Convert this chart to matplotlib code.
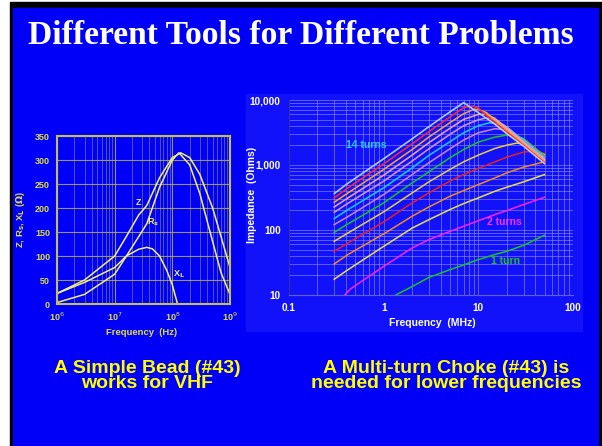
import matplotlib
matplotlib.use("Agg")
import matplotlib.pyplot as plt
from matplotlib.patches import Rectangle
from matplotlib.ticker import NullFormatter, LogLocator

# ---------------- data: left chart (simple bead) ----------------
z_freq = [1e6, 3e6, 1e7, 1.6e7, 2.6e7, 3.6e7, 6e7, 1e8, 1.4e8, 2e8, 3e8, 5e8, 7e8, 1e9]
z_vals = [22, 50, 100, 141, 185, 205, 263, 305, 315, 305, 270, 200, 140, 76]
rs_freq = [1e6, 3e6, 1e7, 1.6e7, 2.6e7, 3.6e7, 6e7, 1e8, 1.3e8, 2e8, 3e8, 5e8, 7e8, 1e9]
rs_vals = [3, 20, 62, 100, 140, 167, 243, 300, 315, 290, 230, 130, 65, 20]
xl_freq = [1e6, 3e6, 1e7, 1.6e7, 2.6e7, 3.6e7, 4.5e7, 6e7, 8e7, 1e8, 1.23e8]
xl_vals = [22, 45, 76, 100, 114, 118, 115, 100, 70, 40, 0]
left_labels = [("Z", 2.6e7, 212), ("R$_\\mathbf{s}$", 4.7e7, 170), ("X$_\\mathbf{L}$", 1.28e8, 63)]

# ---------------- data: right chart (multi-turn choke) ----------------
turn_freqs = {
    14: [0.3, 0.42, 1, 2, 3, 5, 7, 10, 15, 20, 30, 50],
    13: [0.3, 0.42, 1, 2, 3, 5, 7, 8.8, 10, 15, 20, 30, 50],
    12: [0.3, 0.42, 1, 2, 3, 5, 7, 8.8, 10, 12.2, 15, 20, 30, 50],
    11: [0.3, 0.42, 1, 2, 3, 5, 7, 10, 12.2, 15, 20, 30, 50],
    10: [0.3, 0.42, 1, 2, 3, 5, 7, 10, 12.2, 15, 20, 30, 50],
    9:  [0.3, 0.42, 1, 2, 3, 5, 7, 10, 13.2, 16.1, 20, 30, 50],
    8:  [0.3, 0.42, 1, 2, 3, 5, 7, 10, 15, 18.2, 22.3, 30, 50],
    7:  [0.3, 0.42, 1, 2, 3, 5, 7, 10, 15, 20, 25.2, 30, 50],
    6:  [0.3, 0.42, 1, 2, 3, 5, 7, 10, 15, 20, 25.2, 30, 37.8, 50],
    5:  [0.3, 0.42, 1, 2, 3, 5, 7, 10, 15, 20, 30, 37.8, 50],
    4:  [0.3, 0.42, 1, 2, 3, 5, 7, 10, 15, 20, 30, 50],
    3:  [0.3, 0.42, 1, 2, 3, 5, 7, 10, 15, 20, 30, 50],
    2:  [0.39, 0.45, 1, 2, 3, 5, 7, 10, 15, 20, 30, 50],
    1:  [1.36, 2, 3, 5, 7, 10, 15, 20, 30, 50],
}
turn_imped = {
    14: [363, 525, 1245, 2530, 3880, 6540, 9100, 6380, 4220, 3030, 1950, 1050],
    13: [312, 445, 1040, 2120, 3250, 5470, 7620, 8080, 7440, 4470, 3210, 2020, 1090],
    12: [267, 372, 853, 1730, 2690, 4470, 6150, 7100, 7180, 6380, 4860, 3410, 2120, 1150],
    11: [226, 312, 697, 1420, 2200, 3660, 5030, 6010, 6010, 5210, 3610, 2200, 1190],
    10: [187, 258, 563, 1150, 1770, 2950, 4020, 4970, 5280, 5030, 3840, 2280, 1230],
    9:  [150, 206, 445, 904, 1400, 2280, 3130, 4020, 4470, 4310, 3840, 2390, 1270],
    8:  [121, 161, 351, 713, 1080, 1770, 2420, 3130, 3610, 3530, 3130, 2470, 1320],
    7:  [92, 124, 261, 531, 785, 1290, 1730, 2250, 2690, 2880, 2790, 2560, 1390],
    6:  [67, 90, 190, 372, 550, 853, 1120, 1420, 1800, 2020, 2170, 2120, 1800, 1440],
    5:  [47, 63, 133, 261, 372, 563, 713, 883, 1120, 1320, 1580, 1630, 1490],
    4:  [30, 42, 87, 163, 226, 330, 404, 500, 634, 757, 927, 1120],
    3:  [17.5, 24.5, 56, 107, 144, 206, 255, 312, 395, 455, 550, 713],
    2:  [10.1, 12.5, 27.5, 53, 71, 95, 114, 139, 173, 199, 246, 319],
    1:  [10.1, 13.5, 18.6, 24.5, 29, 35, 42, 47, 58, 83],
}
turn_colors = {
    14: "#b4d2ff", 13: "#ff2a2a", 12: "#ffa033", 11: "#f0a8a0", 10: "#d49ad8",
    9: "#20c8ff", 8: "#c888c8", 7: "#20c020", 6: "#e8d030", 5: "#e82020",
    4: "#f08a20", 3: "#e8e040", 2: "#ff20ff", 1: "#20c020",
}
right_labels = [("14 turns", 0.65, 2040, "#30c8ff"), ("2 turns", 19, 133, "#ff30ff"), ("1 turn", 19.3, 33, "#20c020")]

title = "Different Tools for Different Problems"
caption_left = "A Simple Bead (#43)\nworks for VHF"
caption_right = "A Multi-turn Choke (#43) is\nneeded for lower frequencies"

# ---------------- figure ----------------
W, H = 602, 446
SANS = "Liberation Sans"
plt.rcParams["font.family"] = [SANS, "DejaVu Sans"]
fig = plt.figure(figsize=(W / 100, H / 100), dpi=100)
fig.patch.set_facecolor("white")

def px_rect(x0, y0, x1, y1, color, z):
    fig.patches.append(Rectangle((x0 / W, 1 - y1 / H), (x1 - x0) / W, (y1 - y0) / H,
                                 transform=fig.transFigure, color=color, zorder=z))

BLUE = "#0000f8"
PANEL = "#1212fa"
px_rect(10, 2, 602, 446, "black", -30)
px_rect(13, 8, 598, 446, BLUE, -20)
px_rect(246, 94, 582, 331, PANEL, -10)

fig.text(301 / W, 1 - 35 / H, title, color="white", fontsize=24.2, fontweight="bold",
         family="Liberation Serif", ha="center", va="center")

YEL = "#ffff00"
fig.text(147 / W, 1 - 376 / H, caption_left, color=YEL, fontsize=14, fontweight="bold",
         ha="center", va="center", linespacing=0.85)
fig.text(446 / W, 1 - 376 / H, caption_right, color=YEL, fontsize=14, fontweight="bold",
         ha="center", va="center", linespacing=0.85)

# ---------------- left axes ----------------
LY = "#e0e040"
axL = fig.add_axes([57 / W, 1 - 304 / H, 173 / W, 168 / H])
axL.set_facecolor("none")
axL.set_xscale("log")
axL.set_xlim(1e6, 1e9)
axL.set_ylim(0, 350)
axL.set_xticks([1e6, 1e7, 1e8, 1e9])
axL.set_xticklabels(["10$^6$", "10$^7$", "10$^8$", "10$^9$"])
axL.xaxis.set_minor_locator(LogLocator(base=10, subs=range(2, 10)))
axL.xaxis.set_minor_formatter(NullFormatter())
axL.set_yticks(range(0, 351, 50))
axL.grid(True, which="minor", axis="x", color="#a8a860", linewidth=0.7, alpha=0.5)
axL.grid(True, which="major", axis="x", color="#b8b850", linewidth=0.8, alpha=0.8)
axL.grid(True, which="major", axis="y", color="#b8b850", linewidth=0.8, alpha=0.8)
axL.tick_params(which="both", length=0, colors=LY, labelsize=6.5, pad=5)
for lab in axL.get_xticklabels() + axL.get_yticklabels():
    lab.set_fontweight("bold")
for s in axL.spines.values():
    s.set_color("#c0c050")
    s.set_linewidth(1.5)
CUR = "#f0f07a"
axL.plot(z_freq, z_vals, color=CUR, lw=1.1)
axL.plot(rs_freq, rs_vals, color=CUR, lw=1.1)
axL.plot(xl_freq, xl_vals, color=CUR, lw=1.1)
for t, x, y in left_labels:
    axL.text(x, y, t, color=CUR, fontsize=6.5, fontweight="bold", ha="center", va="center")
axL.set_xlabel("Frequency  (Hz)", color=LY, fontsize=6.8, fontweight="bold")
axL.xaxis.set_label_coords((142 - 57) / 173, -(328 - 304) / 168)
axL.set_ylabel("Z, R$_\\mathbf{s}$, X$_\\mathbf{L}$ ($\\mathbf{\\Omega}$)", color=LY,
               fontsize=6.8, fontweight="bold")
axL.yaxis.set_label_coords(-(57 - 27) / 173, 0.5)

# ---------------- right axes ----------------
axR = fig.add_axes([289 / W, 1 - 295 / H, 284 / W, 195 / H])
axR.set_facecolor(PANEL)
axR.set_xscale("log")
axR.set_yscale("log")
axR.set_xlim(0.1, 100)
axR.set_ylim(10, 10000)
axR.set_xticks([0.1, 1, 10, 100])
axR.set_xticklabels(["0.1", "1", "10", "100"])
axR.set_yticks([10, 100, 1000, 10000])
axR.set_yticklabels(["10", "100", "1,000", "10,000"])
axR.xaxis.set_minor_locator(LogLocator(base=10, subs=range(2, 10)))
axR.yaxis.set_minor_locator(LogLocator(base=10, subs=range(2, 10)))
axR.xaxis.set_minor_formatter(NullFormatter())
axR.yaxis.set_minor_formatter(NullFormatter())
axR.grid(True, which="both", color="#9a9aff", linewidth=0.7, alpha=0.55)
axR.tick_params(which="both", colors="white", labelsize=7.2, length=0, pad=6)
for lab in axR.get_xticklabels() + axR.get_yticklabels():
    lab.set_fontweight("bold")
for s in axR.spines.values():
    s.set_visible(False)
axR.spines["left"].set_visible(True)
axR.spines["left"].set_color("#3030a0")
axR.spines["bottom"].set_visible(True)
axR.spines["bottom"].set_color("#6060d0")
for n in sorted(turn_freqs):
    axR.plot(turn_freqs[n], turn_imped[n], color=turn_colors[n], lw=1.1, zorder=3 + n)
for t, x, y, c in right_labels:
    axR.text(x, y, t, color=c, fontsize=7.5, fontweight="bold", ha="center", va="center")
axR.set_xlabel("Frequency  (MHz)", color="white", fontsize=7.5, fontweight="bold")
axR.xaxis.set_label_coords((432 - 289) / 284, -(318 - 295) / 195)
axR.set_ylabel("Impedance  (Ohms)", color="white", fontsize=7.5, fontweight="bold")
axR.yaxis.set_label_coords(-(289 - 257) / 284, (295 - 195) / 195)

fig.savefig("out.png", dpi=100, facecolor=fig.get_facecolor())
